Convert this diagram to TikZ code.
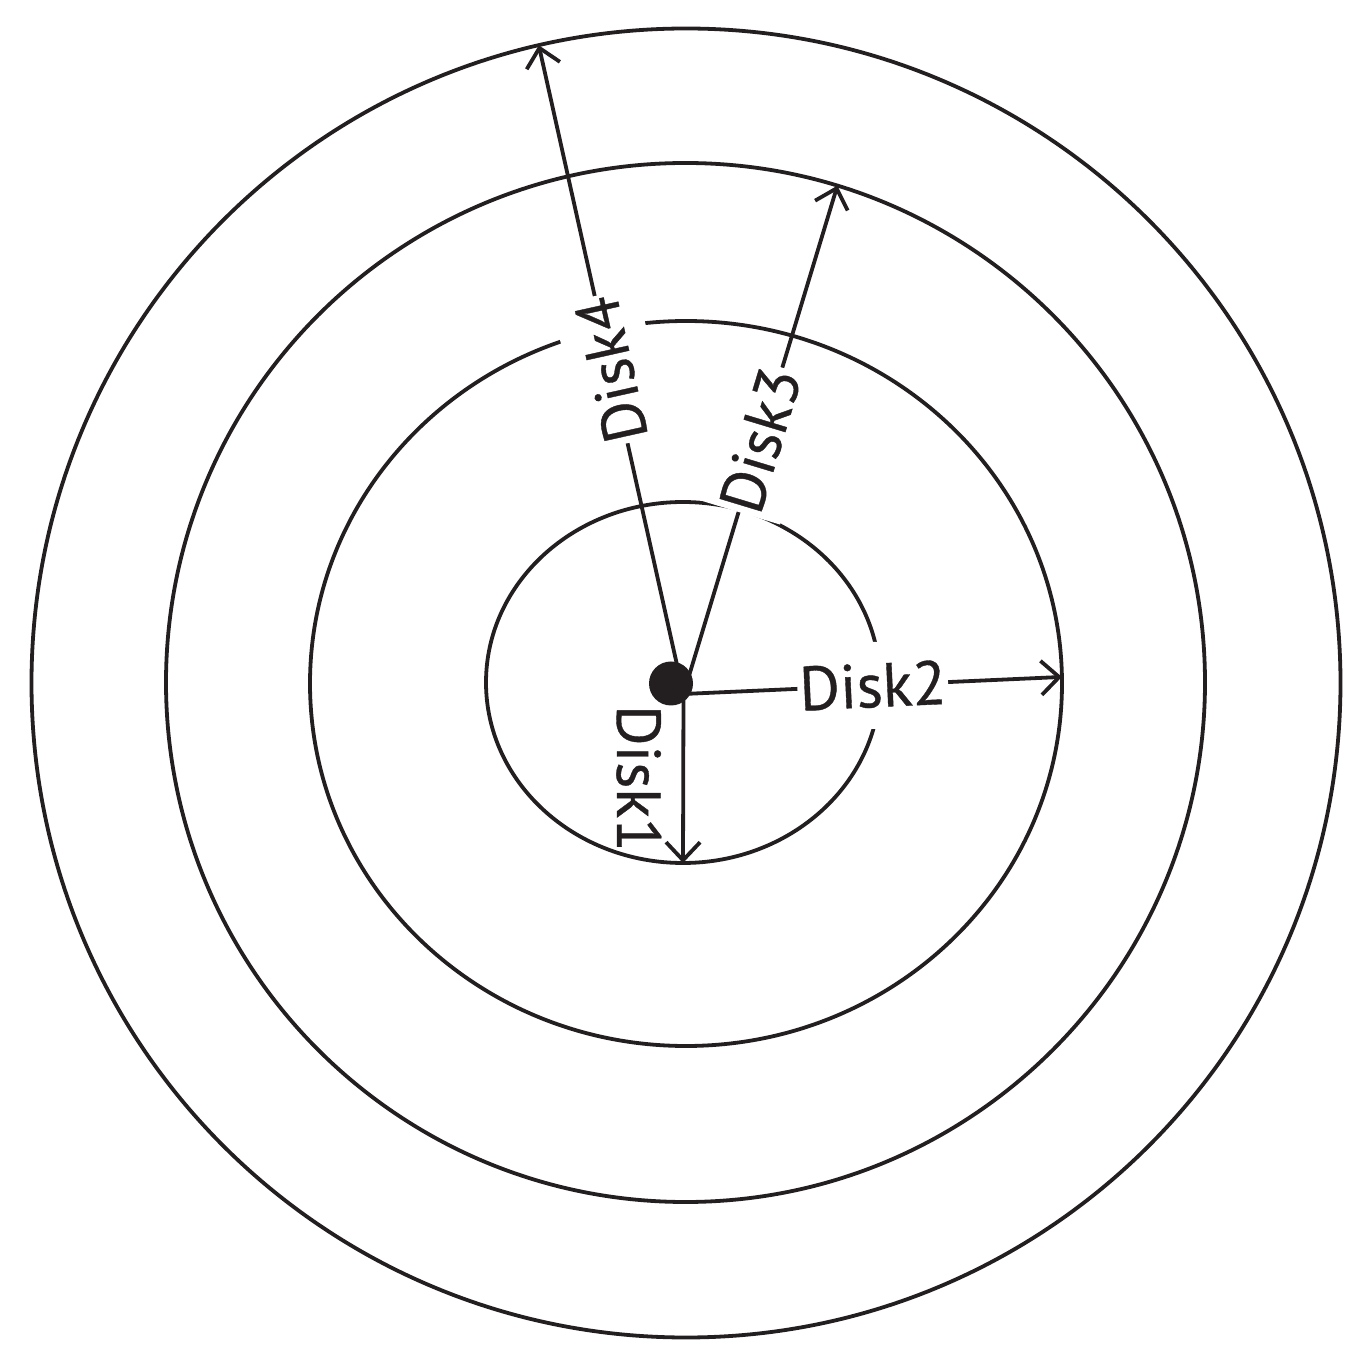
\documentclass[tikz,border=0pt]{standalone}
\usepackage{fontspec}
\setmainfont{PT Sans}[UprightFeatures={FakeBold=0.6}]
\usetikzlibrary{arrows.meta,shapes.geometric}
\definecolor{ink}{RGB}{35,31,32}
\begin{document}
\begin{tikzpicture}[x=0.5pt,y=-0.5pt,
  ring/.style={draw=ink, line width=1.9pt, inner sep=0pt, outer sep=0pt},
  radiusline/.style={draw=ink, line width=1.9pt, -{Straight Barb[length=9pt,width=17pt]}},
  lbl/.style={fill=white, text=ink, inner xsep=1pt, inner ysep=10.5pt, outer sep=0pt,
    font=\fontsize{31}{36}\selectfont, midway, sloped},
  sidelbl/.style={text=ink, inner sep=11pt, outer sep=0pt,
    font=\fontsize{31}{36}\selectfont, midway, anchor=north, rotate=-90},
]
\useasboundingbox (0,0) rectangle (1367,1363);
% rings
\node[ring, circle, minimum size=654.5pt] (c4) at (686,683) {};
\node[ring, circle, minimum size=519.5pt] (c3) at (685.5,682.5) {};
\node[ring, ellipse, minimum width=376pt, minimum height=362.5pt] (c2) at (686,683.5) {};
\node[ring, ellipse, minimum width=197pt, minimum height=180.5pt] (c1) at (683,682.5) {};
% origin of the radii
\coordinate (O) at (683.5,694);
% radii with labels
\draw[radiusline] (O) -- node[lbl, allow upside down] (l4) {Disk4} (c4.103);
\draw[radiusline] (O) -- node[lbl] (l3) {Disk3} (c3.73);
\draw[radiusline] (O) -- node[lbl] (l2) {Disk2} (c2.1);
\draw[radiusline] (O) -- node[sidelbl] (l1) {Disk1} (c1.south);
% centre dot
\node[circle, fill=ink, minimum size=22pt, inner sep=0pt] (dot) at (671,683.5) {};
\end{tikzpicture}
\end{document}
